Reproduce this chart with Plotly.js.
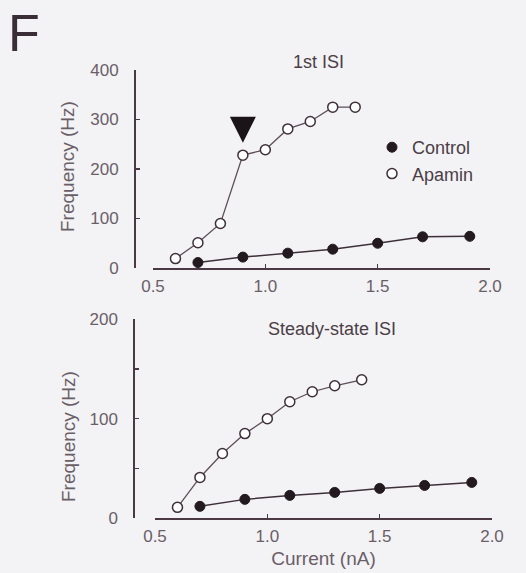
<!DOCTYPE html>
<html>
<head>
<meta charset="utf-8">
<script src="https://cdn.plot.ly/plotly-3.0.1.min.js"></script>
<style>html,body{margin:0;padding:0;background:#f3f2f5;}#chart{width:526px;height:573px;}</style>
</head>
<body>
<div id="chart"></div>
<script>
// Top panel: 1st ISI
const apaminX1 = [0.6, 0.7, 0.8, 0.9, 1.0, 1.1, 1.2, 1.3, 1.4];
const apaminY1 = [19, 51, 90, 228, 239, 281, 296, 325, 325];
const controlX1 = [0.7, 0.9, 1.1, 1.3, 1.5, 1.7, 1.91];
const controlY1 = [11, 22, 30, 38, 50, 63, 64];
// Bottom panel: Steady-state ISI
const apaminX2 = [0.6, 0.7, 0.8, 0.9, 1.0, 1.1, 1.2, 1.3, 1.42];
const apaminY2 = [11, 41, 65, 85, 100, 117, 127, 133, 139];
const controlX2 = [0.7, 0.9, 1.1, 1.3, 1.5, 1.7, 1.91];
const controlY2 = [12, 19, 23, 26, 30, 33, 36];
const xTicks = [0.5, 1.0, 1.5, 2.0];
const xTickText = ['0.5', '1.0', '1.5', '2.0'];
const yTicks1 = [0, 100, 200, 300, 400];
const yTicks2 = [0, 50, 100, 150, 200];
const yTickText2 = ['0', '', '100', '', '200'];

const lineCol = '#3e3039';
const textCol = '#6a5f67';
const axCol = '#4a3843';
const font = 'Liberation Sans, Arial, sans-serif';

const ctrlMarker = {symbol: 'circle', size: 10, color: '#231a20', line: {color: '#231a20', width: 1}};
const apaMarker = {symbol: 'circle', size: 10, color: '#ffffff', line: {color: '#3e3039', width: 1.5}};

function series(x, y, xa, ya, name, lineColor, lineWidth, marker, show) {
  return [
    {x: x, y: y, xaxis: xa, yaxis: ya, type: 'scatter', mode: 'lines', name: name,
      showlegend: false, cliponaxis: false, line: {color: lineColor, width: lineWidth}},
    {x: x, y: y, xaxis: xa, yaxis: ya, type: 'scatter', mode: 'markers', name: name,
      showlegend: show, cliponaxis: false, marker: marker}
  ];
}

const data = [].concat(
  series(controlX1, controlY1, 'x', 'y', 'Control', lineCol, 1.5, ctrlMarker, true),
  series(apaminX1, apaminY1, 'x', 'y', 'Apamin', '#5e4f58', 1.3, apaMarker, true),
  series(controlX2, controlY2, 'x2', 'y2', 'Control', lineCol, 1.5, ctrlMarker, false),
  series(apaminX2, apaminY2, 'x2', 'y2', 'Apamin', '#5e4f58', 1.3, apaMarker, false)
);

const W = 526, H = 573;
const xAxisCommon = {
  range: [0.5, 2.0], tickvals: xTicks, ticktext: xTickText,
  ticks: 'inside', ticklen: 4, tickwidth: 1.5, tickcolor: axCol,
  showline: true, linecolor: axCol, linewidth: 1.5,
  showgrid: false, zeroline: false, fixedrange: true,
  tickfont: {family: font, size: 17, color: textCol}, ticklabelstandoff: 2
};
const yAxisCommon = {
  ticks: 'inside', ticklen: 4, tickwidth: 1.5, tickcolor: axCol,
  showline: true, linecolor: axCol, linewidth: 1.5,
  showgrid: false, zeroline: false, fixedrange: true, anchor: 'free',
  tickfont: {family: font, size: 17, color: textCol}, ticklabelstandoff: 12
};

const layout = {
  width: W, height: H,
  margin: {l: 0, r: 0, t: 0, b: 0},
  paper_bgcolor: '#f3f2f5', plot_bgcolor: 'rgba(0,0,0,0)',
  font: {family: font, color: textCol},
  xaxis: Object.assign({}, xAxisCommon, {domain: [153 / W, 490 / W], anchor: 'y'}),
  yaxis: Object.assign({}, yAxisCommon, {domain: [1 - 268 / H, 1 - 70 / H], range: [0, 400],
    tickvals: yTicks1, position: 134 / W}),
  xaxis2: Object.assign({}, xAxisCommon, {domain: [155 / W, 492 / W], anchor: 'y2',
    title: {text: 'Current (nA)', font: {family: font, size: 19, color: textCol}, standoff: 6}}),
  yaxis2: Object.assign({}, yAxisCommon, {domain: [1 - 518.3 / H, 1 - 319 / H], range: [0, 200],
    tickvals: yTicks2, ticktext: yTickText2, position: 133.3 / W}),
  showlegend: true,
  legend: {x: 372 / W, y: 1 - 129 / H, xanchor: 'left', yanchor: 'top', bgcolor: 'rgba(0,0,0,0)',
    font: {family: font, size: 18, color: '#4a3e46'}, itemwidth: 30, tracegroupgap: 0},
  annotations: [
    {text: 'F', xref: 'paper', yref: 'paper', x: 6 / W, y: 1 - 2 / H, xanchor: 'left', yanchor: 'top',
      showarrow: false, font: {family: font, size: 52, color: '#3a2d36'}},
    {text: '1st ISI', xref: 'paper', yref: 'paper', x: 318 / W, y: 1 - 62 / H, xanchor: 'center', yanchor: 'middle',
      showarrow: false, font: {family: font, size: 18, color: '#4a3e46'}},
    {text: 'Steady-state ISI', xref: 'paper', yref: 'paper', x: 332 / W, y: 1 - 329 / H, xanchor: 'center', yanchor: 'middle',
      showarrow: false, font: {family: font, size: 18, color: '#4a3e46'}},
    {text: 'Frequency (Hz)', xref: 'paper', yref: 'paper', x: 67 / W, y: 1 - 167 / H, xanchor: 'center', yanchor: 'middle',
      textangle: -90, showarrow: false, font: {family: font, size: 19, color: textCol}},
    {text: 'Frequency (Hz)', xref: 'paper', yref: 'paper', x: 68 / W, y: 1 - 437 / H, xanchor: 'center', yanchor: 'middle',
      textangle: -90, showarrow: false, font: {family: font, size: 19, color: textCol}},
    {text: '', xref: 'x', yref: 'y', x: 0.9, y: 253, ax: 0, ay: -26, showarrow: true,
      arrowhead: 2, arrowsize: 2.6, arrowwidth: 2, arrowcolor: '#1a1418', standoff: 0}
  ]
};

Plotly.newPlot('chart', data, layout, {displayModeBar: false, staticPlot: true});
</script>
</body>
</html>
